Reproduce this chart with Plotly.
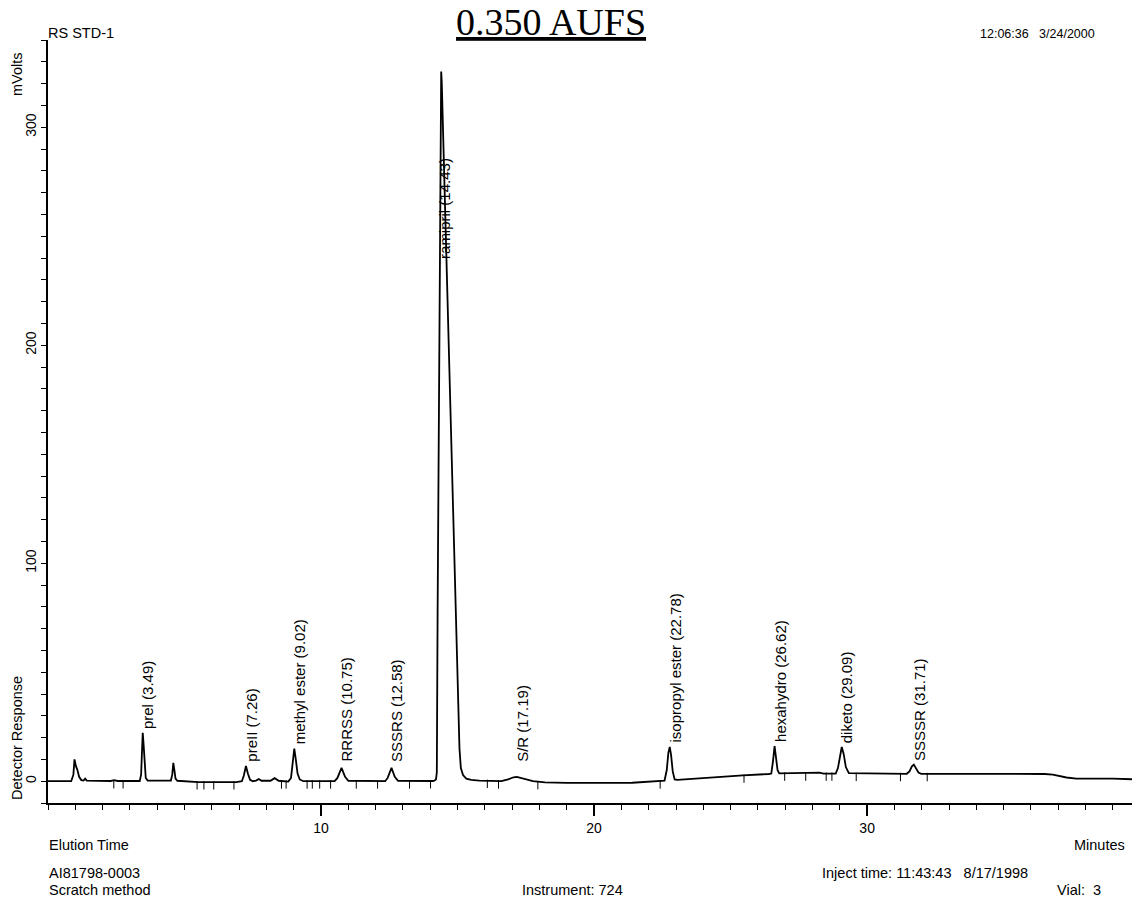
import numpy as np
import plotly.graph_objects as go

# ---------------- data ----------------
time_min = [
    0.00, 0.85, 0.93, 0.97, 1.02, 1.08, 1.14, 1.22, 1.30, 1.36, 1.42,
    2.30, 2.42, 2.55,
    3.36, 3.41, 3.45, 3.47, 3.50, 3.54, 3.58, 3.65,
    4.20, 4.30, 4.40, 4.50, 4.55, 4.59, 4.63, 4.67, 4.74,
    5.20, 5.50, 6.90,
    7.10, 7.17, 7.25, 7.32, 7.40, 7.50, 7.62, 7.72, 7.82, 8.15, 8.30, 8.45, 8.80,
    8.90, 8.96, 9.02, 9.08, 9.14, 9.22, 9.35,
    10.50, 10.60, 10.75, 10.88, 11.00,
    12.35, 12.44, 12.58, 12.70, 12.82,
    14.10, 14.16, 14.21, 14.24, 14.27, 14.31, 14.35, 14.38, 14.40, 14.42,
    14.56, 14.74, 14.91, 15.00, 15.07, 15.12, 15.20, 15.32, 15.50, 15.80, 16.50,
    16.60, 16.85, 17.05, 17.17, 17.35, 17.55, 17.76, 18.20, 19.00, 21.40, 22.20, 22.45,
    22.58, 22.66, 22.72, 22.77, 22.82, 22.88, 22.95, 23.05, 24.00, 25.45, 26.40,
    26.49, 26.55, 26.61, 26.66, 26.72, 26.78, 27.50, 28.26, 28.40, 28.85,
    28.93, 29.00, 29.07, 29.14, 29.22, 29.33, 31.45,
    31.55, 31.64, 31.71, 31.79, 31.88, 31.98, 35.80, 36.50, 36.80, 37.05, 37.30,
    37.66, 38.10, 38.50, 39.00, 39.70,
]
signal_mv = [
    0.0, 0.0, 3.0, 10.0, 7.0, 5.0, 2.0, 0.5, 0.3, 1.2, 0.3,
    0.1, 0.5, 0.1,
    0.1, 3.0, 16.0, 22.2, 17.0, 6.0, 1.5, 0.3,
    0.3, 0.6, 0.3, 0.3, 3.0, 8.4, 5.0, 1.2, 0.2,
    0.0, -0.4, -0.4,
    0.0, 2.5, 7.0, 3.5, 0.6, 0.0, 0.3, 1.0, 0.2, 0.2, 1.4, 0.2, -0.2,
    1.5, 9.0, 15.0, 9.5, 3.5, 0.8, 0.0,
    0.0, 1.5, 6.1, 2.0, 0.2,
    0.0, 1.5, 6.1, 2.0, 0.2,
    0.1, 0.3, 0.9, 4.0, 80.0, 170.0, 250.0, 322.0, 325.5, 321.0,
    250.0, 170.0, 90.0, 45.0, 15.0, 6.0, 2.8, 1.2, 0.6, 0.3, 0.0,
    0.0, 0.8, 1.8, 2.0, 1.4, 0.5, 0.0, -0.5, -0.8, -0.7, -0.2, 0.0,
    0.3, 5.0, 13.0, 15.7, 12.0, 4.5, 0.8, 0.6, 1.5, 2.7, 3.3,
    3.5, 9.0, 16.1, 11.0, 5.0, 3.6, 3.6, 3.9, 3.5, 3.5,
    6.0, 12.0, 15.7, 12.5, 6.5, 3.7, 3.4,
    4.5, 6.8, 7.6, 6.0, 4.0, 3.4, 3.5, 3.3, 3.0, 2.3, 1.7,
    1.2, 1.3, 1.4, 1.2, 0.9,
]

# integration event marks (time, baseline level)
event_times = [2.41, 2.75, 5.46, 5.71, 6.07, 6.81, 8.55, 8.72, 9.49, 9.68, 9.95,
               10.35, 11.29, 12.07, 13.24, 14.01, 16.09, 16.50, 17.94, 22.42,
               25.49, 26.98, 27.75, 28.50, 28.71, 29.60, 31.22, 32.20]
event_levels = [0.1, 0.1, -0.4, -0.4, -0.4, -0.4, 0.0, 0.0, 0.0, 0.0, 0.0,
                0.0, 0.0, 0.0, 0.0, 0.1, 0.3, 0.0, -0.3, 0.0,
                2.7, 3.6, 3.6, 3.6, 3.6, 3.5, 3.4, 3.4]

peak_names = ["prel", "preII", "methyl ester", "RRRSS", "SSSRS", "ramipril",
              "S/R", "isopropyl ester", "hexahydro", "diketo", "SSSSR"]
peak_rts = [3.49, 7.26, 9.02, 10.75, 12.58, 14.43, 17.19, 22.78, 26.62, 29.09, 31.71]

x_ticks = [10, 20, 30]
y_ticks = [0, 100, 200, 300]

# ---------------- layout geometry ----------------
W, H = 1132, 897
ML, MR, MT, MB = 48, 0, 40, 94
PW, PH = W - ML - MR, H - MT - MB
FONT = "Liberation Sans, Arial, Helvetica, sans-serif"


def paper(px, py):
    return (px - ML) / PW, (H - MB - py) / PH


fig = go.Figure()
fig.add_trace(go.Scatter(x=time_min, y=signal_mv, mode="lines",
                         line=dict(color="black", width=1.8),
                         hoverinfo="skip", showlegend=False))
fig.add_trace(go.Scatter(x=event_times, y=[v - 1.5 for v in event_levels],
                         mode="markers",
                         marker=dict(symbol="line-ns", size=6,
                                     line=dict(color="black", width=1)),
                         hoverinfo="skip", showlegend=False))

t_arr = np.array(time_min)
s_arr = np.array(signal_mv)
annotations = []
for name, rt in zip(peak_names, peak_rts):
    win = (t_arr > rt - 0.12) & (t_arr < rt + 0.12)
    apex = float(s_arr[win].max())
    label = f"{name} ({rt:.2f})"
    if name == "ramipril":
        # label printed inside the main peak, well below its apex
        ly, xs = apex - 88.0, 3
    else:
        ly, xs = max(apex, 7.0), 5
    annotations.append(dict(x=rt, y=ly, xref="x", yref="y",
                            text=label, textangle=-90, showarrow=False,
                            xanchor="center", yanchor="bottom",
                            xshift=xs, yshift=2,
                            font=dict(family=FONT, size=15, color="black")))


def txt(text, px, py, xa="left", ya="middle", size=14.5, angle=0, family=FONT):
    x, y = paper(px, py)
    annotations.append(dict(x=x, y=y, xref="paper", yref="paper", text=text,
                            showarrow=False, xanchor=xa, yanchor=ya,
                            textangle=angle,
                            font=dict(family=family, size=size, color="black")))


nb = "\u00a0"
txt("RS STD-1", 46, 33)
txt("mVolts", 17, 74, xa="center", angle=-90)
txt("<u>0.350 AUFS</u>", 551, 22, xa="center", size=38,
    family="Liberation Serif, Times New Roman, serif")
txt(f"12:06:36{nb*3}3/24/2000", 1097, 34, xa="right", size=12.5)
txt("Detector Response", 17, 738, xa="center", angle=-90)
txt("Elution Time", 47, 845)
txt("Minutes", 1127, 845, xa="right")
txt("AI81798-0003", 47, 873)
txt("Scratch method", 47, 890)
txt("Instrument: 724", 572, 890, xa="center")
txt(f"Inject time: 11:43:43{nb*3}8/17/1998", 820, 873)
txt(f"Vial:{nb*2}3", 1055, 890)

fig.update_layout(
    width=W, height=H,
    margin=dict(l=ML, r=MR, t=MT, b=MB, pad=0, autoexpand=False),
    paper_bgcolor="white", plot_bgcolor="white",
    annotations=annotations,
    font=dict(family=FONT, size=14, color="black"),
    xaxis=dict(range=[0, 39.7], tickvals=x_ticks, ticks="outside", ticklen=11,
               tickwidth=1.5, tickcolor="black", showline=True, linecolor="black",
               linewidth=1.5, showgrid=False, zeroline=False, automargin=False,
               tickfont=dict(family=FONT, size=14),
               minor=dict(dtick=1, tick0=0, ticks="outside", ticklen=5,
                          tickwidth=1, tickcolor="black", showgrid=False)),
    yaxis=dict(range=[-10, 340], tickvals=y_ticks, ticks="outside", ticklen=5,
               tickwidth=1, tickcolor="black", showline=True, linecolor="black",
               linewidth=1.5, showgrid=False, zeroline=False, tickangle=-90,
               automargin=False,
               tickfont=dict(family=FONT, size=14),
               minor=dict(dtick=10, tick0=0, ticks="outside", ticklen=5,
                          tickwidth=1, tickcolor="black", showgrid=False)),
)

fig.write_html(
    "out.html",
    config={"displayModeBar": False},
    post_script="document.body.style.margin='0';document.body.style.overflow='hidden';",
)
